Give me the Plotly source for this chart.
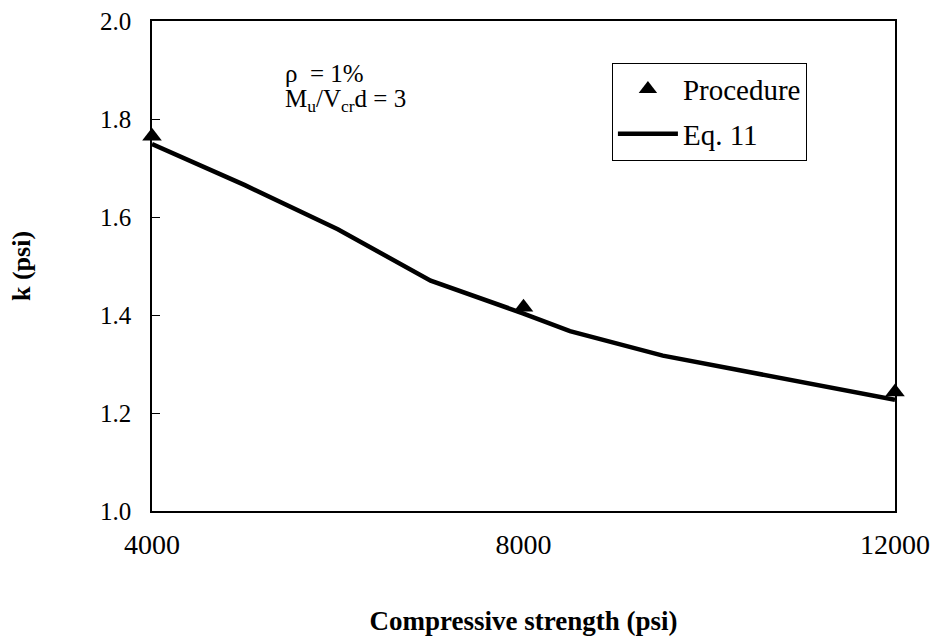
import plotly.graph_objects as go

# Data
proc_x = [4000, 8000, 12000]
proc_k = [1.765, 1.416, 1.243]

eq_x = [4000, 5000, 6000, 7000, 8000, 8500, 9500, 10800, 12000]
eq_k = [1.749, 1.665, 1.575, 1.470, 1.403, 1.367, 1.317, 1.269, 1.227]

x_ticks = [4000, 8000, 12000]
y_ticks = [1.0, 1.2, 1.4, 1.6, 1.8, 2.0]

FONT = "Liberation Serif, Times New Roman, serif"

fig = go.Figure()
fig.add_trace(go.Scatter(
    x=proc_x, y=proc_k, mode="markers", name="Procedure",
    marker=dict(symbol="triangle-up", size=17, color="black"),
    legendgroup="a", cliponaxis=False,
))
fig.add_trace(go.Scatter(
    x=eq_x, y=eq_k, mode="lines", name="Eq. 11",
    line=dict(color="black", width=4.5),
    legendgroup="b",
))

fig.update_layout(
    width=935, height=640,
    margin=dict(l=152, r=40, t=21, b=129),
    paper_bgcolor="white", plot_bgcolor="white",
    font=dict(family=FONT, color="black", size=22),
    showlegend=True,
    legend=dict(
        x=0.619, y=0.915, xanchor="left", yanchor="top",
        bordercolor="black", borderwidth=1, bgcolor="white",
        font=dict(family=FONT, size=29, color="black"),
        tracegroupgap=4, traceorder="grouped", itemwidth=60,
    ),
    xaxis=dict(
        range=[4000, 12000], tickvals=x_ticks,
        ticktext=[str(v) for v in x_ticks],
        showgrid=False, zeroline=False,
        showline=True, linecolor="black", linewidth=1.5, mirror=True,
        ticks="", ticklabelstandoff=8, automargin=False,
        tickfont=dict(family=FONT, size=28),
        title=dict(text="<b>Compressive strength (psi)</b>",
                   font=dict(family=FONT, size=27), standoff=52),
    ),
    yaxis=dict(
        range=[1.0, 2.0], tickvals=y_ticks,
        ticktext=[f"{v:.1f}" for v in y_ticks],
        showgrid=False, zeroline=False,
        showline=True, linecolor="black", linewidth=1.5, mirror=True,
        ticks="inside", ticklen=8, tickcolor="black",
        ticklabelstandoff=14, automargin=False,
        tickfont=dict(family=FONT, size=25),
        title=dict(text="<b>k (psi)</b>",
                   font=dict(family=FONT, size=26), standoff=62),
    ),
    annotations=[
        dict(xref="paper", yref="paper", x=0.176, y=(511 - 73) / 490,
             xanchor="left", yanchor="middle", align="left", showarrow=False,
             text="ρ  = 1%",
             font=dict(family=FONT, size=25, color="black")),
        dict(xref="paper", yref="paper", x=0.176, y=(511 - 101) / 490,
             xanchor="left", yanchor="middle", align="left", showarrow=False,
             text="M<sub>u</sub>/V<sub>cr</sub>d = 3",
             font=dict(family=FONT, size=25, color="black")),
    ],
)

fig.write_html("out.html")
